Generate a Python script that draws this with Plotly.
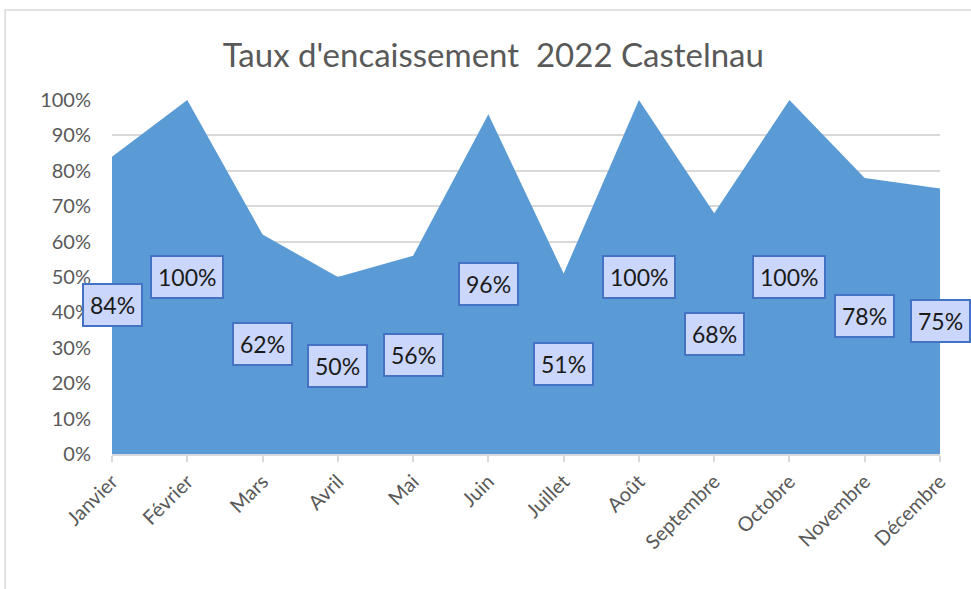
import plotly.graph_objects as go

months = ["Janvier", "Février", "Mars", "Avril", "Mai", "Juin", "Juillet",
          "Août", "Septembre", "Octobre", "Novembre", "Décembre"]
rates = [84, 100, 62, 50, 56, 96, 51, 100, 68, 100, 78, 75]
y_ticks = list(range(0, 101, 10))
y_tick_labels = [f"{v}%" for v in y_ticks]

FONT = "Lato, 'Open Sans', sans-serif"
GREY = "#595959"

fig = go.Figure()
fig.add_trace(go.Scatter(
    x=months, y=rates, mode="lines", fill="tozeroy",
    line=dict(width=0, color="#5B9BD5"), fillcolor="#5B9BD5",
    hoverinfo="skip", showlegend=False,
))

# value labels sit in the middle of the filled area
for m, v in zip(months, rates):
    fig.add_annotation(
        x=m, y=v / 2, text=f"{v}%", showarrow=False,
        font=dict(family=FONT, size=23, color="#1a1a1a"),
        bgcolor="#cad6fb", bordercolor="#4472C4", borderwidth=2, borderpad=6,
    )

# outer chart frame
fig.add_shape(type="rect", xref="paper", yref="paper",
              x0=-0.129, x1=1.2, y0=-0.5, y1=1.254,
              line=dict(color="#d9d9d9", width=1.5), layer="below")

fig.update_layout(
    width=971, height=589,
    margin=dict(l=112, r=31, t=100, b=135),
    paper_bgcolor="white", plot_bgcolor="white",
    title=dict(text="Taux d'encaissement  2022 Castelnau", x=0.508, xanchor="center",
               y=1 - 55 / 589, yanchor="middle",
               font=dict(family=FONT, size=33, color=GREY)),
    xaxis=dict(
        type="category", range=[0, 11], tickangle=-45,
        showgrid=False, showline=True, linecolor="#d9d9d9", linewidth=2,
        ticks="outside", ticklen=6, tickcolor="#d9d9d9", tickwidth=2,
        tickfont=dict(family=FONT, size=20, color=GREY),
    ),
    yaxis=dict(
        range=[0, 100], tickvals=y_ticks, ticktext=y_tick_labels,
        showgrid=True, gridcolor="#d9d9d9", gridwidth=2,
        zeroline=False, showline=False, ticks="", ticklabelstandoff=20,
        tickfont=dict(family=FONT, size=20, color=GREY),
    ),
)

fig.write_html("out.html")
